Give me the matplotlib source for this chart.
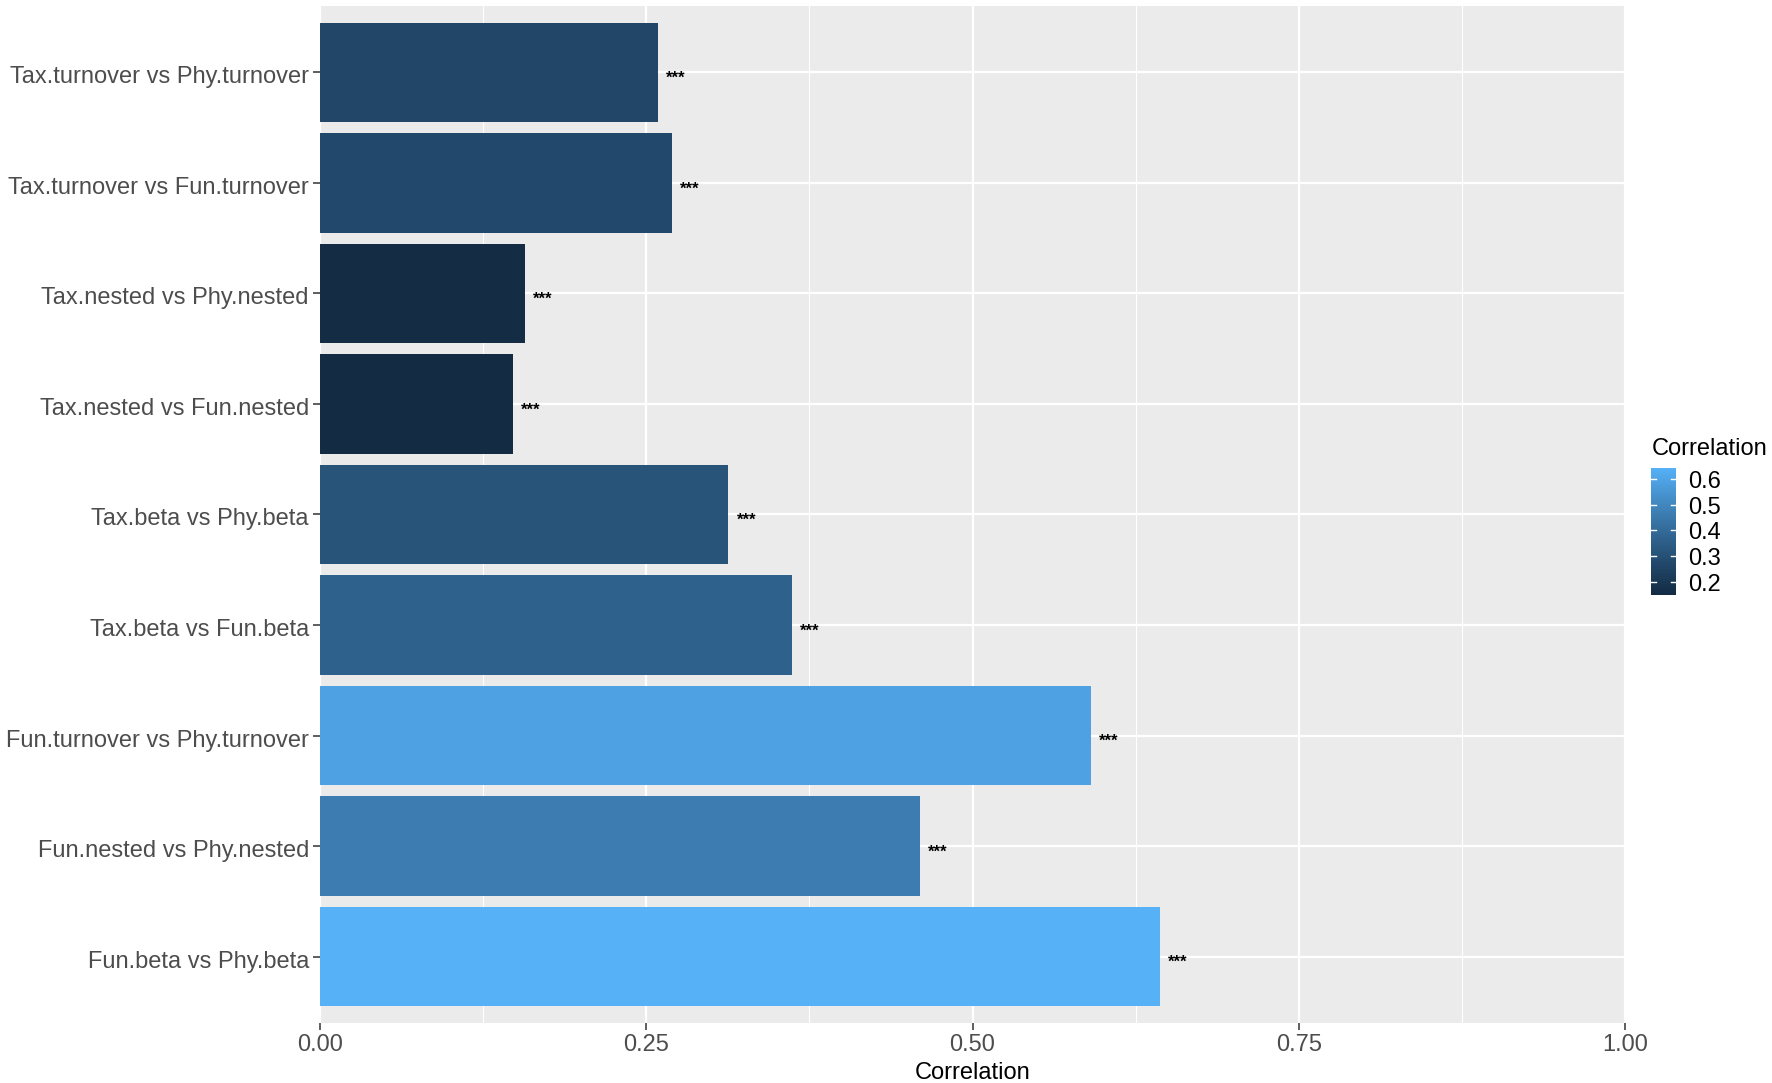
import numpy as np
import matplotlib
matplotlib.use("Agg")
import matplotlib.pyplot as plt
import matplotlib.transforms as mtransforms
from matplotlib.colors import ListedColormap, Normalize

plt.rcParams['font.family'] = ['Liberation Sans', 'DejaVu Sans']

# ---- data (bottom to top) ----
categories = [
    "Fun.beta vs Phy.beta",
    "Fun.nested vs Phy.nested",
    "Fun.turnover vs Phy.turnover",
    "Tax.beta vs Fun.beta",
    "Tax.beta vs Phy.beta",
    "Tax.nested vs Fun.nested",
    "Tax.nested vs Phy.nested",
    "Tax.turnover vs Fun.turnover",
    "Tax.turnover vs Phy.turnover",
]
correlation = [0.644, 0.460, 0.591, 0.362, 0.313, 0.148, 0.157, 0.270, 0.259]
signif = ["***"] * 9
xticks = [0.00, 0.25, 0.50, 0.75, 1.00]
xticklabels = ["0.00", "0.25", "0.50", "0.75", "1.00"]
legend_ticks = [0.2, 0.3, 0.4, 0.5, 0.6]

# ---- ggplot-like Lab gradient ----
def srgb_to_lab(rgb):
    rgb = np.asarray(rgb, float)
    lin = np.where(rgb <= 0.04045, rgb / 12.92, ((rgb + 0.055) / 1.055) ** 2.4)
    M = np.array([[0.4124564, 0.3575761, 0.1804375],
                  [0.2126729, 0.7151522, 0.0721750],
                  [0.0193339, 0.1191920, 0.9503041]])
    xyz = lin @ M.T
    wp = np.array([0.95047, 1.0, 1.08883])
    t = xyz / wp
    f = np.where(t > (6/29)**3, np.cbrt(t), t / (3*(6/29)**2) + 4/29)
    L = 116*f[..., 1] - 16
    a = 500*(f[..., 0] - f[..., 1])
    b = 200*(f[..., 1] - f[..., 2])
    return np.stack([L, a, b], -1)

def lab_to_srgb(lab):
    L, a, b = lab[..., 0], lab[..., 1], lab[..., 2]
    fy = (L + 16) / 116
    fx = fy + a / 500
    fz = fy - b / 200
    def finv(f):
        return np.where(f > 6/29, f**3, 3*(6/29)**2*(f - 4/29))
    wp = np.array([0.95047, 1.0, 1.08883])
    xyz = np.stack([finv(fx), finv(fy), finv(fz)], -1) * wp
    Minv = np.array([[3.2404542, -1.5371385, -0.4985314],
                     [-0.9692660, 1.8760108, 0.0415560],
                     [0.0556434, -0.2040259, 1.0572252]])
    lin = xyz @ Minv.T
    lin = np.clip(lin, 0, 1)
    rgb = np.where(lin <= 0.0031308, 12.92*lin, 1.055*lin**(1/2.4) - 0.055)
    return np.clip(rgb, 0, 1)

low = np.array([0x13, 0x2B, 0x43]) / 255
high = np.array([0x56, 0xB1, 0xF7]) / 255
lab_lo, lab_hi = srgb_to_lab(low), srgb_to_lab(high)
tt = np.linspace(0, 1, 256)[:, None]
cmap = ListedColormap(lab_to_srgb(lab_lo + (lab_hi - lab_lo) * tt))
vmin, vmax = min(correlation), max(correlation)
norm = Normalize(vmin, vmax)

W, H = 1772, 1083
fig = plt.figure(figsize=(W/100, H/100), dpi=100)
ax = fig.add_axes([320/W, 1 - 1023/H, (1625-320)/W, (1023-6)/H])
ax.set_facecolor("#EBEBEB")

ypos = np.arange(1, len(categories) + 1)
ax.barh(ypos, correlation, height=0.9, color=cmap(norm(np.array(correlation))), zorder=3)
for y, v, s in zip(ypos, correlation, signif):
    ax.annotate(s, (v, y), xytext=(8, -6), textcoords="offset pixels",
                ha="left", va="center", fontsize=12, fontweight="bold", color="black", zorder=4)

ax.set_xlim(0, 1)
ax.set_ylim(0.4, len(categories) + 0.6)
ax.set_xticks(xticks)
ax.set_xticklabels(xticklabels)
ax.set_xticks([0.125, 0.375, 0.625, 0.875], minor=True)
ax.set_yticks(ypos)
ax.set_yticklabels(categories)
ax.grid(which="major", color="white", linewidth=1.6, zorder=1)
ax.grid(which="minor", axis="x", color="white", linewidth=0.8, zorder=1)
ax.set_axisbelow(True)
for sp in ax.spines.values():
    sp.set_visible(False)
ax.tick_params(axis="both", which="major", length=5, width=1.1, color="#333333",
               labelsize=17, labelcolor="#4D4D4D", pad=3)
ax.tick_params(axis="both", which="minor", length=0)
ax.set_xlabel("Correlation", fontsize=17, color="black", labelpad=4)

shift = mtransforms.ScaledTranslation(0, -2.5/100, fig.dpi_scale_trans)
for lab in ax.get_yticklabels():
    lab.set_transform(lab.get_transform() + shift)

# ---- colourbar legend ----
cax = fig.add_axes([1651/W, 1 - 595/H, 25/W, 127/H])
grad = np.linspace(vmin, vmax, 300)[:, None]
cax.imshow(grad, aspect="auto", cmap=cmap, norm=norm, origin="lower",
           extent=[0, 1, vmin, vmax])
cax.set_xlim(0, 1)
cax.set_ylim(vmin, vmax)
cax.set_xticks([])
cax.set_yticks([])
for sp in cax.spines.values():
    sp.set_visible(False)
lshift = mtransforms.ScaledTranslation(0, -3/100, fig.dpi_scale_trans)
for t in legend_ticks:
    cax.plot([0, 0.2], [t, t], color="white", lw=1.0)
    cax.plot([0.8, 1], [t, t], color="white", lw=1.0)
    cax.text(1.5, t, f"{t:.1f}", transform=cax.get_yaxis_transform() + lshift,
             ha="left", va="center", fontsize=17, color="black")
fig.text(1652/W, 1 - 455/H, "Correlation", ha="left", va="baseline", fontsize=17, color="black")

fig.savefig("out.png", dpi=100)
